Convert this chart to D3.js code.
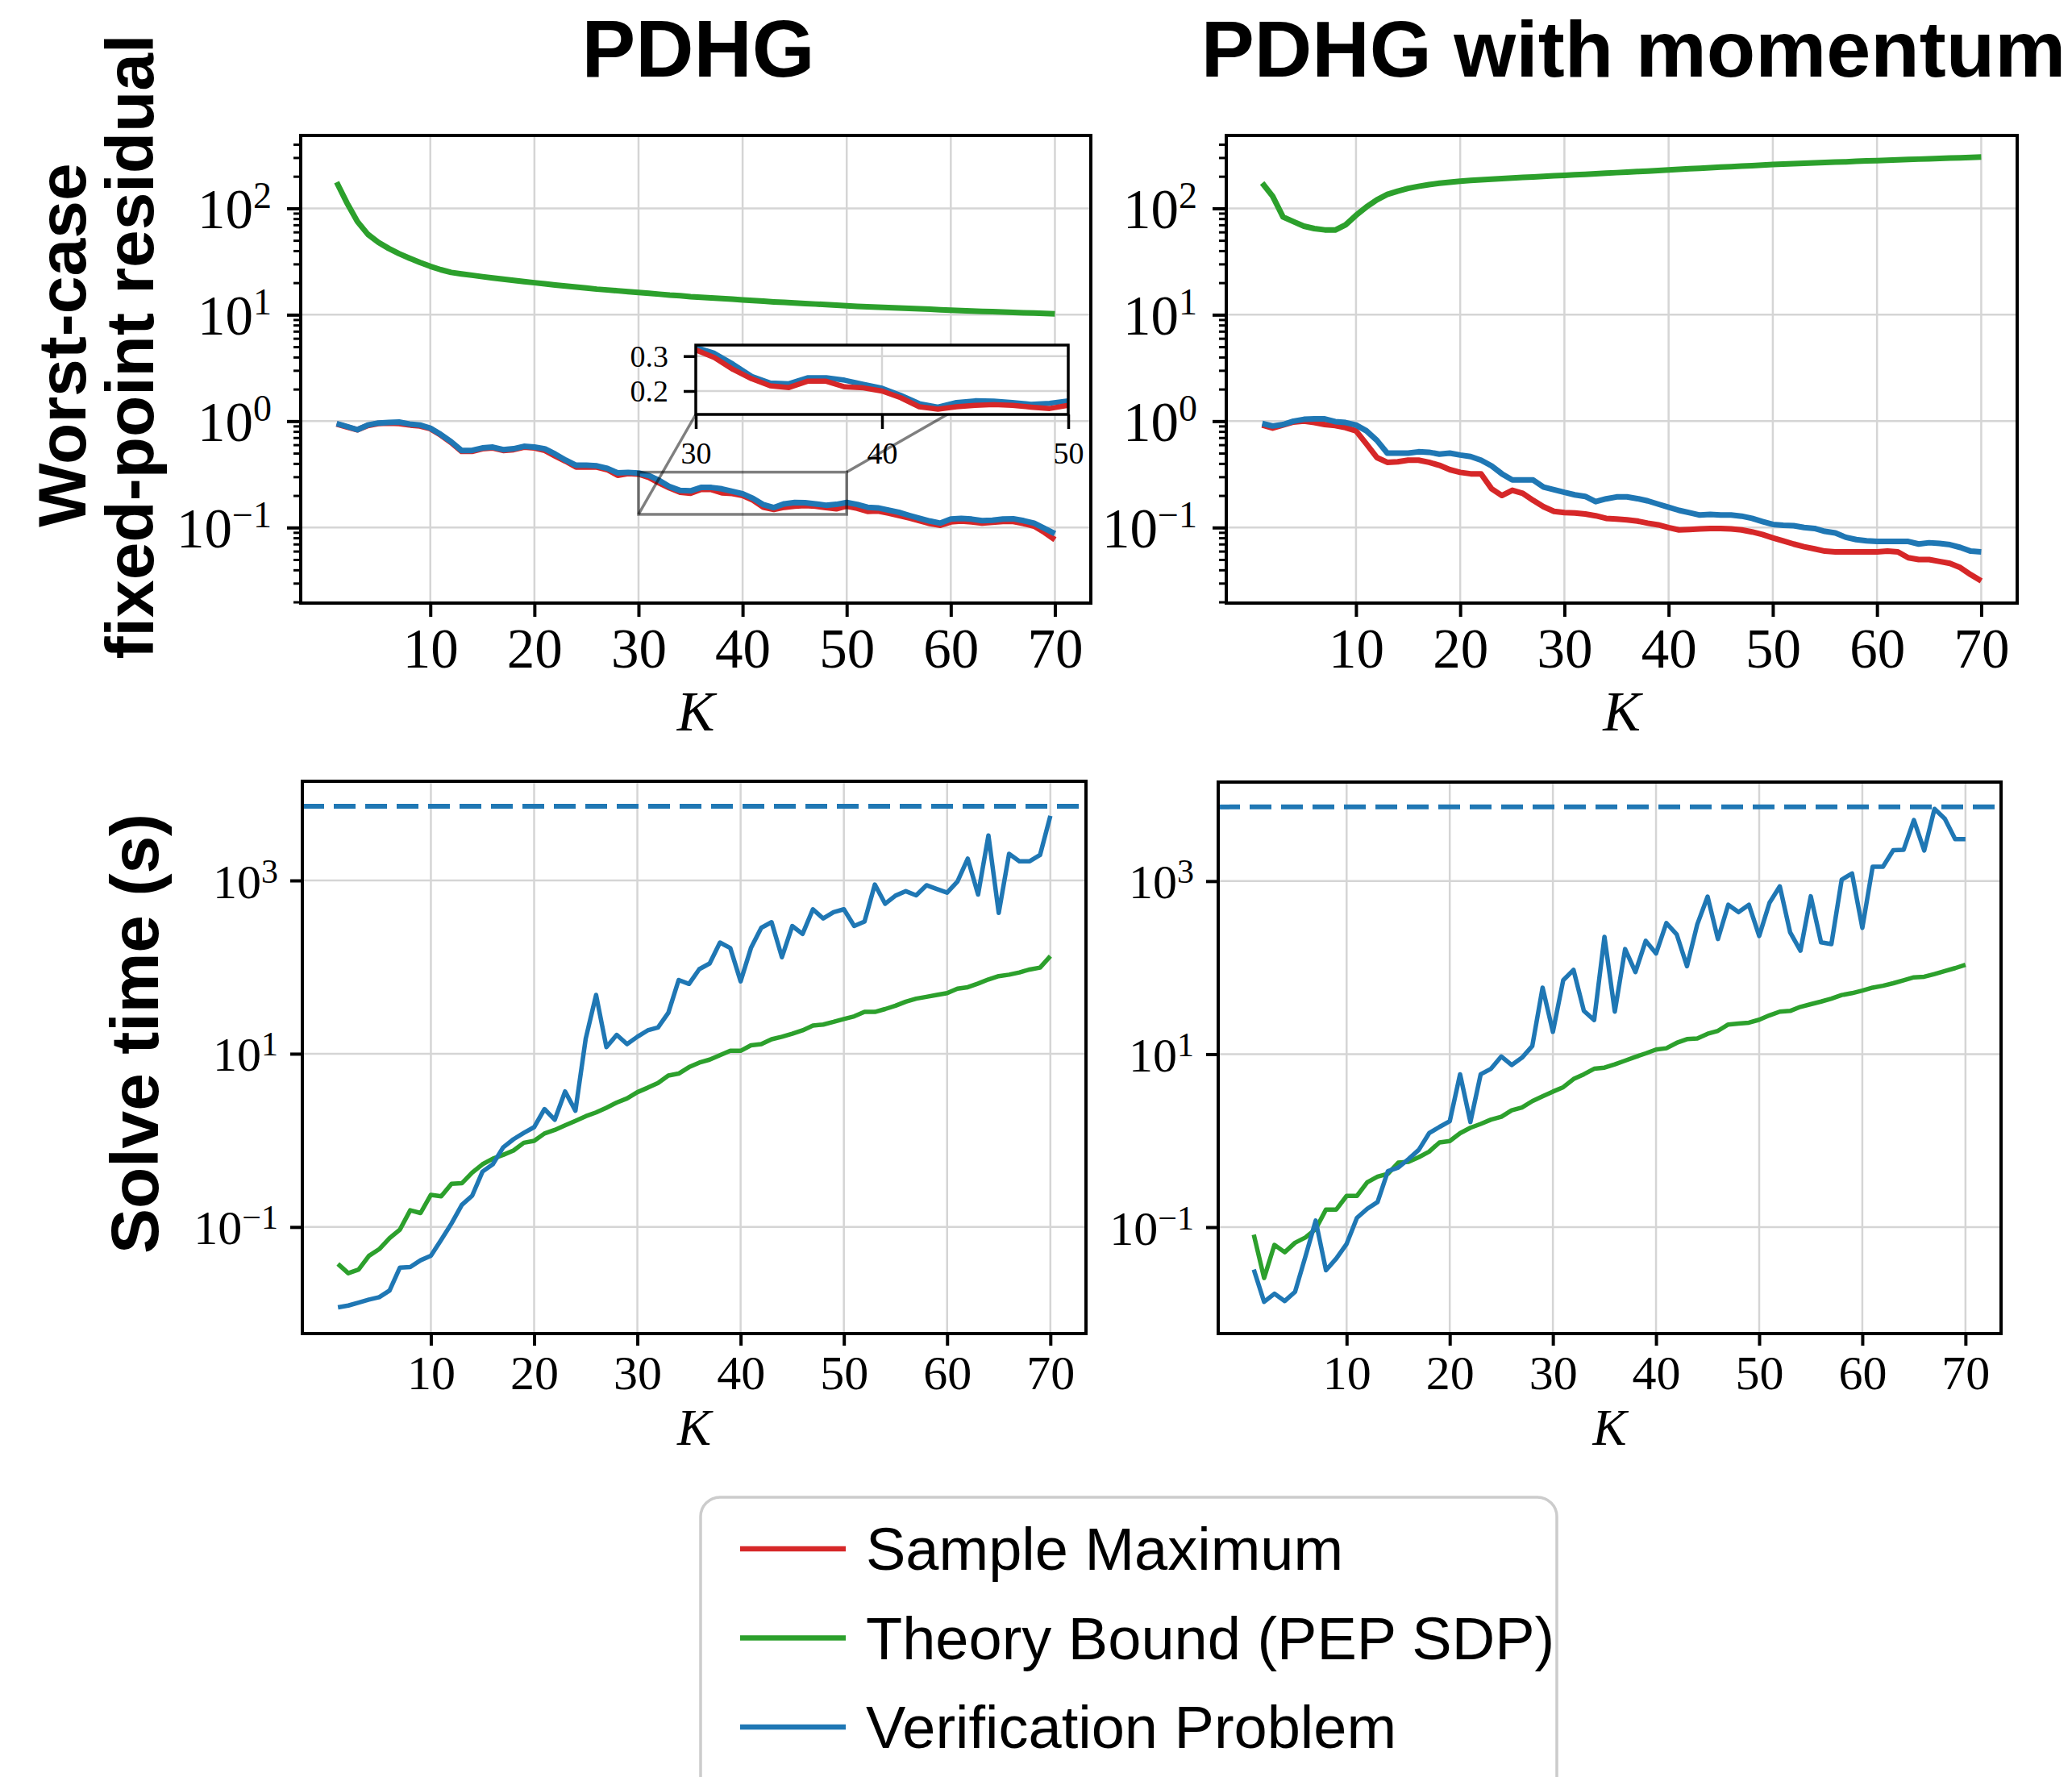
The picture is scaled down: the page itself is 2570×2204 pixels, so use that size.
<!DOCTYPE html>
<html><head><meta charset="utf-8">
<script src="https://cdn.jsdelivr.net/npm/d3@7"></script>
<style>body{margin:0;background:#fff}svg{display:block}</style>
</head><body>
<script>
// ---------------- DATA ----------------
const K = d3.range(1, 71);
const xTickValues = [10, 20, 30, 40, 50, 60, 70];
const timeLimit = 7200;
const seriesNames = ["Sample Maximum", "Theory Bound (PEP SDP)", "Verification Problem"];
const panelTitles = ["PDHG", "PDHG with momentum"];

const pdhgSample = [0.94,0.88,0.83,0.91,0.95,0.96,0.95,0.92,0.9,0.85, 0.74,0.63,0.52,0.52,0.55,0.56,0.53,0.54,0.57,0.56, 0.53,0.47,0.42,0.37,0.37,0.37,0.35,0.31,0.322,0.318, 0.296,0.262,0.235,0.215,0.21,0.228,0.228,0.212,0.209,0.2, 0.181,0.155,0.148,0.155,0.159,0.161,0.159,0.154,0.15,0.159, 0.152,0.142,0.143,0.137,0.13,0.123,0.116,0.109,0.105,0.113, 0.115,0.113,0.11,0.112,0.114,0.114,0.109,0.103,0.09,0.077];
const pdhgTheory = [176,112,75,57,48,42,37.5,34,31,28.5, 26.5,25,24.2,23.5,22.8,22.2,21.6,21.0,20.5,20.0, 19.5,19.0,18.6,18.2,17.8,17.4,17.1,16.8,16.5,16.2, 15.9,15.6,15.3,15.1,14.8,14.6,14.4,14.2,14.0,13.8, 13.6,13.4,13.2,13.05,12.9,12.75,12.6,12.45,12.3,12.15, 12.0,11.9,11.8,11.65,11.55,11.45,11.35,11.25,11.15,11.05, 10.95,10.85,10.75,10.68,10.6,10.52,10.44,10.36,10.28,10.2];
const pdhgVerif = [0.95,0.89,0.83,0.92,0.96,0.97,0.98,0.94,0.92,0.86, 0.75,0.64,0.53,0.53,0.56,0.57,0.54,0.55,0.58,0.57, 0.55,0.49,0.43,0.385,0.385,0.38,0.36,0.326,0.33,0.325, 0.308,0.277,0.242,0.223,0.221,0.238,0.238,0.231,0.219,0.208, 0.188,0.164,0.154,0.167,0.172,0.171,0.167,0.162,0.165,0.172, 0.165,0.155,0.153,0.146,0.139,0.13,0.122,0.115,0.11,0.12, 0.122,0.12,0.116,0.117,0.12,0.121,0.116,0.11,0.098,0.0875];

const momSample = [0.92,0.86,0.92,0.98,1.0,0.97,0.93,0.91,0.87,0.81, 0.61,0.455,0.41,0.415,0.43,0.43,0.41,0.385,0.35,0.33, 0.32,0.32,0.232,0.2,0.224,0.21,0.18,0.157,0.142,0.138, 0.137,0.134,0.129,0.122,0.12,0.118,0.115,0.11,0.106,0.1, 0.095,0.096,0.097,0.098,0.098,0.097,0.095,0.091,0.086,0.08, 0.075,0.07,0.066,0.063,0.06,0.059,0.059,0.059,0.059,0.059, 0.06,0.059,0.052,0.05,0.05,0.048,0.046,0.042,0.036,0.0315];
const momTheory = [173,130,83,75,68,64.5,62.7,62.5,70,86, 103,120,135,145,154,161,167,172,176,180, 183,185.5,188,190.5,193,195.5,197.5,200,202,204, 206.5,209,211.5,214,216.5,219,221.5,224,227,230, 233,235.5,238,241,244,246.5,249,252,255,258, 260.5,263,265,267,269.5,272,274,276.5,279,281, 283,285.5,287.5,290,292,294,296.5,298.5,301,303];
const momVerif = [0.95,0.9,0.93,1.0,1.04,1.05,1.05,0.99,0.97,0.92, 0.81,0.66,0.5,0.5,0.5,0.515,0.51,0.49,0.5,0.48, 0.465,0.43,0.38,0.32,0.28,0.28,0.28,0.24,0.227,0.214, 0.203,0.196,0.175,0.186,0.194,0.194,0.187,0.178,0.166,0.155, 0.145,0.138,0.131,0.133,0.131,0.131,0.128,0.122,0.114,0.107, 0.105,0.104,0.1,0.098,0.092,0.089,0.081,0.077,0.075,0.074, 0.074,0.074,0.074,0.07,0.072,0.071,0.069,0.065,0.06,0.059];

const timeTheoryPdhg = [0.0375,0.0293,0.0323,0.0465,0.0555,0.0745,0.0933,0.156,0.145,0.235, 0.226,0.315,0.32,0.424,0.53,0.615,0.68,0.764,0.938,0.986, 1.2,1.32,1.49,1.68,1.9,2.1,2.38,2.73,3.05,3.6, 4.05,4.6,5.6,5.9,7.0,7.9,8.55,9.6,10.8,10.8, 12.5,12.9,14.7,15.7,17,18.6,21.1,21.7,23.3,25.2, 27,30.4,30.4,32.8,35.8,39.9,43.2,45.4,47.7,50, 56.3,58.6,64.6,72,78.7,81.8,86.8,93.8,98.6,134];
const timeVerifPdhg = [0.0118,0.0124,0.0134,0.0145,0.0155,0.0185,0.034,0.0345,0.0413,0.0465, 0.071,0.11,0.18,0.23,0.436,0.53,0.83,1.03,1.22,1.42, 2.3,1.73,3.67,2.2,15,47.7,11.9,16.5,12.9,15.7, 18.6,20.1,29.7,71,64,94.8,110,192,166,68.5, 166,284,330,130,298,241,465,364,430,465, 298,336,898,538,668,752,674,881,798,723, 971,1786,688,3310,422,2028,1667,1667,1967,5570];
const timeTheoryMom = [0.082,0.0258,0.0624,0.0513,0.066,0.0759,0.095,0.16,0.16,0.23, 0.23,0.33,0.383,0.414,0.556,0.57,0.644,0.746,0.953,0.99, 1.22,1.41,1.56,1.75,1.89,2.24,2.42,2.86,3.25,3.69, 4.15,5.15,5.85,6.78,6.98,7.63,8.41,9.29,10.2,11.3, 11.7,13.5,14.9,15.2,17.2,18.6,22,22.6,23.1,25, 28.1,31,31.6,35.2,37.8,40.5,43.8,48.2,50.7,54.3, 58.7,61.7,66,71.5,77.3,78.5,84.4,91.2,98.7,108];
const timeVerifMom = [0.0323,0.0137,0.017,0.014,0.0179,0.0455,0.119,0.0317,0.0434,0.064, 0.128,0.163,0.195,0.443,0.489,0.612,0.783,1.22,1.44,1.68, 5.85,1.64,5.85,6.78,9.4,7.48,9.1,12.4,58.7,18.1, 71.5,94,31.7,24.8,227,31,164,88.7,204,146, 327,243,104,317,662,214,533,438,533,232, 561,871,256,157,668,196,187,1040,1228,288, 1466,1466,2280,2300,5090,2260,6840,5250,3060,3060];

// inset
const insetK = [30, 50];
const insetY = [0.133, 0.3316];
const insetYTicks = [0.2, 0.3];
const insetXTicks = [30, 40, 50];

// ---------------- DRAWING ----------------
const COL = {red: "#d62728", green: "#2ca02c", blue: "#1f77b4"};
const SERIF = "'Liberation Serif','DejaVu Serif',serif";
const SANS = "'Liberation Sans',Arial,Helvetica,sans-serif";
const GRID = "#d5d5d5";

const svg = d3.select("body").append("svg").attr("width", 2570).attr("height", 2204);
svg.append("rect").attr("width", 2570).attr("height", 2204).attr("fill", "#fff");
const defs = svg.append("defs");
let clipId = 0;

function supLabel(sel, exp, o) {
  const t = sel.append("text").attr("text-anchor", "end").attr("x", -o.gap).attr("y", o.base)
    .attr("fill", "#000").style("font-family", SERIF).style("font-size", o.fs + "px");
  t.append("tspan").text("10");
  t.append("tspan").attr("dy", -o.raise).style("font-size", o.sfs + "px").text(exp < 0 ? "\u2212" + (-exp) : String(exp));
}

function panel(p) {
  const g = svg.append("g");
  const x = d3.scaleLinear().domain([-2.45, 73.45]).range([p.x0, p.x1]);
  const y = d3.scaleLog().domain(p.yDom).range([p.y1, p.y0]);
  const cid = "clip" + (clipId++);
  defs.append("clipPath").attr("id", cid).append("rect")
    .attr("x", p.x0).attr("y", p.y0).attr("width", p.x1 - p.x0).attr("height", p.y1 - p.y0);
  // grid
  g.append("g").selectAll("line").data(xTickValues).join("line")
    .attr("x1", d => x(d)).attr("x2", d => x(d)).attr("y1", p.y0).attr("y2", p.y1)
    .attr("stroke", GRID).attr("stroke-width", 2.5);
  g.append("g").selectAll("line").data(p.yMajor).join("line")
    .attr("y1", d => y(d)).attr("y2", d => y(d)).attr("x1", p.x0).attr("x2", p.x1)
    .attr("stroke", GRID).attr("stroke-width", 2.5);
  // series
  const lg = g.append("g").attr("clip-path", `url(#${cid})`);
  const line = d3.line().x((d, i) => x(K[i])).y(d => y(d));
  p.series.forEach(s => {
    lg.append("path").datum(s.v).attr("d", line).attr("fill", "none")
      .attr("stroke", s.c).attr("stroke-width", p.lw).attr("stroke-linejoin", "round").attr("stroke-linecap", "butt");
  });
  if (p.limit) {
    lg.append("line").attr("x1", p.x0).attr("x2", p.x1).attr("y1", y(p.limit)).attr("y2", y(p.limit))
      .attr("stroke", COL.blue).attr("stroke-width", 6).attr("stroke-dasharray", "27,12");
  }
  // x axis
  const ax = g.append("g").attr("transform", `translate(0,${p.y1})`)
    .call(d3.axisBottom(x).tickValues(xTickValues).tickSize(p.tl).tickFormat(d3.format("d")));
  ax.select(".domain").remove();
  ax.selectAll(".tick line").attr("stroke", "#000").attr("stroke-width", 4);
  ax.selectAll(".tick text").attr("y", p.xBase).attr("dy", null).attr("fill", "#000")
    .style("font-family", SERIF).style("font-size", p.fs + "px");
  // y axis major
  const ay = g.append("g").attr("transform", `translate(${p.x0},0)`)
    .call(d3.axisLeft(y).tickValues(p.yMajor).tickSize(p.tl).tickFormat(() => ""));
  ay.select(".domain").remove();
  ay.selectAll(".tick line").attr("stroke", "#000").attr("stroke-width", 4);
  ay.selectAll(".tick text").remove();
  ay.selectAll(".tick").each(function (d) {
    supLabel(d3.select(this), Math.round(Math.log10(d)), p.yl);
  });
  if (p.yMinor) {
    const am = g.append("g").attr("transform", `translate(${p.x0},0)`)
      .call(d3.axisLeft(y).tickValues(p.yMinor).tickSize(9).tickFormat(() => ""));
    am.select(".domain").remove();
    am.selectAll(".tick line").attr("stroke", "#000").attr("stroke-width", 3);
  }
  // x label
  g.append("text").attr("x", (p.x0 + p.x1) / 2).attr("y", p.kBase).attr("text-anchor", "middle")
    .style("font-family", SERIF).style("font-style", "italic").style("font-size", p.kfs + "px").text("K");
  const frame = () => g.append("rect").attr("x", p.x0).attr("y", p.y0).attr("width", p.x1 - p.x0)
    .attr("height", p.y1 - p.y0).attr("fill", "none").attr("stroke", "#000").attr("stroke-width", 4);
  return {g, x, y, frame};
}

// minor ticks for top row
const topMinor = [];
[-2, -1, 0, 1, 2].forEach(e => { for (let m = 2; m <= 9; m++) topMinor.push(m * Math.pow(10, e)); });
const topDom = [Math.pow(10, -1.71), Math.pow(10, 2.685)];
const topMinorIn = topMinor.filter(v => v >= topDom[0] && v <= topDom[1]);
const topYL = {gap: 36, base: 24, fs: 69, sfs: 46, raise: 25};
const botDom = [Math.pow(10, -2.23), Math.pow(10, 4.145)];
const botYL = {gap: 30, base: 21, fs: 60, sfs: 42, raise: 19};

const tl = panel({x0: 373, x1: 1353, y0: 168, y1: 748, yDom: topDom, yMajor: [0.1, 1, 10, 100], yMinor: topMinorIn,
  lw: 7, tl: 17, fs: 69, xBase: 80, yl: topYL, kBase: 906, kfs: 70,
  series: [{v: pdhgTheory, c: COL.green}, {v: pdhgSample, c: COL.red}, {v: pdhgVerif, c: COL.blue}]});

// inset indicator
{
  const {g, x, y} = tl;
  const rx0 = x(insetK[0]), rx1 = x(insetK[1]), ry0 = y(insetY[1]), ry1 = y(insetY[0]);
  g.append("rect").attr("x", rx0).attr("y", ry0).attr("width", rx1 - rx0).attr("height", ry1 - ry0)
    .attr("fill", "none").attr("stroke", "#000").attr("stroke-opacity", 0.5).attr("stroke-width", 3.5);
  const box = {x0: 863, x1: 1325, y0: 428, y1: 514};
  g.append("line").attr("x1", rx0).attr("y1", ry1).attr("x2", box.x0).attr("y2", box.y1)
    .attr("stroke", "#000").attr("stroke-opacity", 0.5).attr("stroke-width", 3.5);
  g.append("line").attr("x1", rx1).attr("y1", ry0).attr("x2", box.x1).attr("y2", box.y0)
    .attr("stroke", "#000").attr("stroke-opacity", 0.5).attr("stroke-width", 3.5);
  const ig = g.append("g");
  const ix = d3.scaleLinear().domain(insetK).range([box.x0, box.x1]);
  const iy = d3.scaleLinear().domain(insetY).range([box.y1, box.y0]);
  ig.append("rect").attr("x", box.x0).attr("y", box.y0).attr("width", box.x1 - box.x0).attr("height", box.y1 - box.y0).attr("fill", "#fff");
  ig.selectAll("line.gx").data(insetXTicks).join("line").attr("class", "gx")
    .attr("x1", d => ix(d)).attr("x2", d => ix(d)).attr("y1", box.y0).attr("y2", box.y1).attr("stroke", GRID).attr("stroke-width", 2.5);
  ig.selectAll("line.gy").data(insetYTicks).join("line").attr("class", "gy")
    .attr("y1", d => iy(d)).attr("y2", d => iy(d)).attr("x1", box.x0).attr("x2", box.x1).attr("stroke", GRID).attr("stroke-width", 2.5);
  defs.append("clipPath").attr("id", "insetclip").append("rect")
    .attr("x", box.x0).attr("y", box.y0).attr("width", box.x1 - box.x0).attr("height", box.y1 - box.y0);
  const il = ig.append("g").attr("clip-path", "url(#insetclip)");
  const iline = d3.line().x(d => ix(d[0])).y(d => iy(d[1]));
  [[pdhgVerif, COL.blue], [pdhgSample, COL.red]].forEach(([arr, c]) => {
    const pts = K.map((k, i) => [k, arr[i]]).filter(d => d[0] >= insetK[0] && d[0] <= insetK[1]);
    il.append("path").datum(pts).attr("d", iline).attr("fill", "none").attr("stroke", c).attr("stroke-width", 6.5).attr("stroke-linejoin", "round");
  });
  ig.append("rect").attr("x", box.x0).attr("y", box.y0).attr("width", box.x1 - box.x0).attr("height", box.y1 - box.y0)
    .attr("fill", "none").attr("stroke", "#000").attr("stroke-width", 3.5);
  const iax = ig.append("g").attr("transform", `translate(0,${box.y1})`)
    .call(d3.axisBottom(ix).tickValues(insetXTicks).tickSize(18).tickFormat(d3.format("d")));
  iax.select(".domain").remove();
  iax.selectAll(".tick line").attr("stroke", "#000").attr("stroke-width", 3.5);
  iax.selectAll(".tick text").attr("y", 61).attr("dy", null).attr("fill", "#000").style("font-family", SERIF).style("font-size", "38px");
  const iay = ig.append("g").attr("transform", `translate(${box.x0},0)`)
    .call(d3.axisLeft(iy).tickValues(insetYTicks).tickSize(15).tickFormat(d3.format(".1f")));
  iay.select(".domain").remove();
  iay.selectAll(".tick line").attr("stroke", "#000").attr("stroke-width", 3.5);
  iay.selectAll(".tick text").attr("x", -34).attr("dy", "0.34em").attr("fill", "#000").style("font-family", SERIF).style("font-size", "38px");
}
tl.frame();

const tr = panel({x0: 1521, x1: 2502, y0: 168, y1: 748, yDom: topDom, yMajor: [0.1, 1, 10, 100], yMinor: topMinorIn,
  lw: 7, tl: 17, fs: 69, xBase: 80, yl: topYL, kBase: 906, kfs: 70,
  series: [{v: momTheory, c: COL.green}, {v: momSample, c: COL.red}, {v: momVerif, c: COL.blue}]});
tr.frame();

const bl = panel({x0: 375, x1: 1347, y0: 969, y1: 1654, yDom: botDom, yMajor: [0.1, 10, 1000], yMinor: null,
  lw: 5.5, tl: 15, fs: 60, xBase: 69, yl: botYL, kBase: 1792, kfs: 63, limit: timeLimit,
  series: [{v: timeTheoryPdhg, c: COL.green}, {v: timeVerifPdhg, c: COL.blue}]});
bl.frame();

const br = panel({x0: 1511, x1: 2482, y0: 970, y1: 1654, yDom: botDom, yMajor: [0.1, 10, 1000], yMinor: null,
  lw: 5.5, tl: 15, fs: 60, xBase: 69, yl: botYL, kBase: 1792, kfs: 63, limit: timeLimit,
  series: [{v: timeTheoryMom, c: COL.green}, {v: timeVerifMom, c: COL.blue}]});
br.frame();

// titles
svg.append("text").attr("x", 866).attr("y", 95).attr("text-anchor", "middle")
  .style("font-family", SANS).style("font-weight", "bold").style("font-size", "100px").text(panelTitles[0]);
svg.append("text").attr("x", 2026).attr("y", 95).attr("text-anchor", "middle")
  .style("font-family", SANS).style("font-weight", "bold").style("font-size", "99px").text(panelTitles[1]);

// y labels
function ylab(xb, yc, txt) {
  svg.append("text").attr("transform", `translate(${xb},${yc}) rotate(-90)`).attr("text-anchor", "middle")
    .style("font-family", SANS).style("font-weight", "bold").style("font-size", "84px").text(txt);
}
ylab(106, 428, "Worst-case");
ylab(190, 430, "fixed-point residual");
ylab(196, 1282, "Solve time (s)");

// legend
{
  const lgd = svg.append("g");
  lgd.append("rect").attr("x", 869).attr("y", 1857).attr("width", 1062).attr("height", 400).attr("rx", 24)
    .attr("fill", "#fff").attr("stroke", "#cccccc").attr("stroke-width", 3.5);
  const items = [[seriesNames[0], COL.red], [seriesNames[1], COL.green], [seriesNames[2], COL.blue]];
  const ly = d3.scalePoint().domain(seriesNames).range([1921, 2142]);
  items.forEach(([name, c]) => {
    lgd.append("line").attr("x1", 918).attr("x2", 1049).attr("y1", ly(name)).attr("y2", ly(name))
      .attr("stroke", c).attr("stroke-width", 6.5);
    lgd.append("text").attr("x", 1074).attr("y", ly(name) + 26).style("font-family", SANS).style("font-size", "74px").text(name);
  });
}
</script>
</body></html>
